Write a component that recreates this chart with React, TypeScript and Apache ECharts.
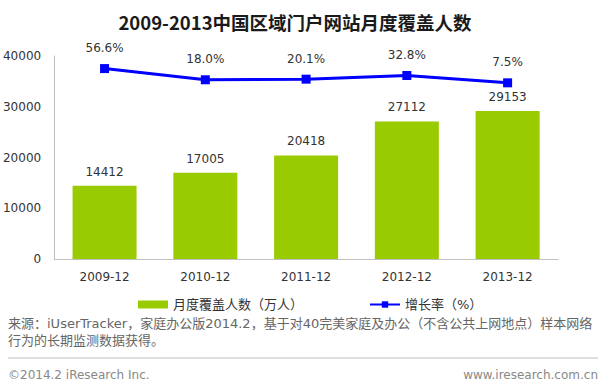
import React, { useEffect, useRef } from "react";
import * as echarts from "echarts";

const categories = ["2009-12", "2010-12", "2011-12", "2012-12", "2013-12"];
const reach = [14412, 17005, 20418, 27112, 29153];
const growth = [56.6, 18.0, 20.1, 32.8, 7.5];
const yTicks = [0, 10000, 20000, 30000, 40000];

const FONT = "'DejaVu Sans', 'Noto Sans CJK SC', sans-serif";

export default function App() {
  const ref = useRef<HTMLDivElement>(null);
  useEffect(() => {
    const chart = echarts.init(ref.current!, null, { renderer: "svg" });
    chart.setOption({
      animation: false,
      backgroundColor: "#ffffff",
      textStyle: { fontFamily: FONT },
      title: {
        text: "2009-2013中国区域门户网站月度覆盖人数",
        left: 290,
        textAlign: "center",
        top: 8,
        textStyle: { fontSize: 18.5, fontWeight: "bold", color: "#1a1a1a", fontFamily: "'Noto Sans CJK SC', sans-serif" },
      },
      legend: {
        left: 133,
        top: 293,
        itemGap: 66,
        itemWidth: 30,
        itemHeight: 8,
        textStyle: { fontSize: 13, color: "#333", fontFamily: FONT },
        data: [
          { name: "月度覆盖人数（万人）", icon: "rect" },
          { name: "增长率（%）" },
        ],
      },
      grid: { left: 54, right: 48, top: 56, bottom: 126 },
      xAxis: {
        type: "category",
        data: categories,
        axisLine: { lineStyle: { color: "#bfbfbf", width: 1 } },
        axisTick: { show: false },
        axisLabel: { color: "#333", fontSize: 12, margin: 12, fontFamily: FONT },
      },
      yAxis: [
        {
          type: "value",
          min: yTicks[0],
          max: yTicks[yTicks.length - 1],
          interval: 10000,
          axisLine: { show: true, lineStyle: { color: "#bfbfbf", width: 1 } },
          axisTick: { show: false },
          splitLine: { show: false },
          axisLabel: { color: "#333", fontSize: 12, margin: 13, fontFamily: FONT, formatter: (v: number) => String(v) },
        },
        {
          type: "value",
          min: -600,
          max: 100,
          show: false,
          splitLine: { show: false },
        },
      ],
      series: [
        {
          name: "月度覆盖人数（万人）",
          type: "bar",
          data: reach,
          barWidth: 64,
          itemStyle: { color: "#99cc00" },
          label: { show: true, position: "top", color: "#333", fontSize: 12, distance: 8, fontFamily: FONT },
        },
        {
          name: "增长率（%）",
          type: "line",
          yAxisIndex: 1,
          data: growth,
          symbol: "rect",
          symbolSize: 9,
          lineStyle: { color: "#0000ff", width: 3 },
          itemStyle: { color: "#0000ff" },
          label: {
            show: true,
            position: "top",
            distance: 10,
            color: "#333",
            fontSize: 12,
            fontFamily: FONT,
            formatter: (p: any) => p.value.toFixed(1) + "%",
          },
        },
      ],
      graphic: [
        {
          type: "text",
          left: 8,
          top: 315,
          style: {
            text: "来源：iUserTracker，家庭办公版2014.2，基于对40完美家庭及办公（不含公共上网地点）样本网络\n行为的长期监测数据获得。",
            fill: "#666",
            fontSize: 13,
            lineHeight: 17,
            fontFamily: FONT,
          },
        },
        {
          type: "line",
          shape: { x1: 8, y1: 358, x2: 598, y2: 358 },
          style: { stroke: "#bfbfbf", lineWidth: 1 },
        },
        {
          type: "text",
          left: 8,
          top: 369,
          style: { text: "©2014.2 iResearch Inc.", fill: "#888", fontSize: 12, fontFamily: FONT },
        },
        {
          type: "text",
          right: 8,
          top: 369,
          style: { text: "www.iresearch.com.cn", fill: "#888", fontSize: 12, fontFamily: FONT },
        },
      ],
    });
    return () => chart.dispose();
  }, []);
  return <div ref={ref} style={{ width: 606, height: 385, position: "absolute", left: 0, top: 0 }} />;
}
